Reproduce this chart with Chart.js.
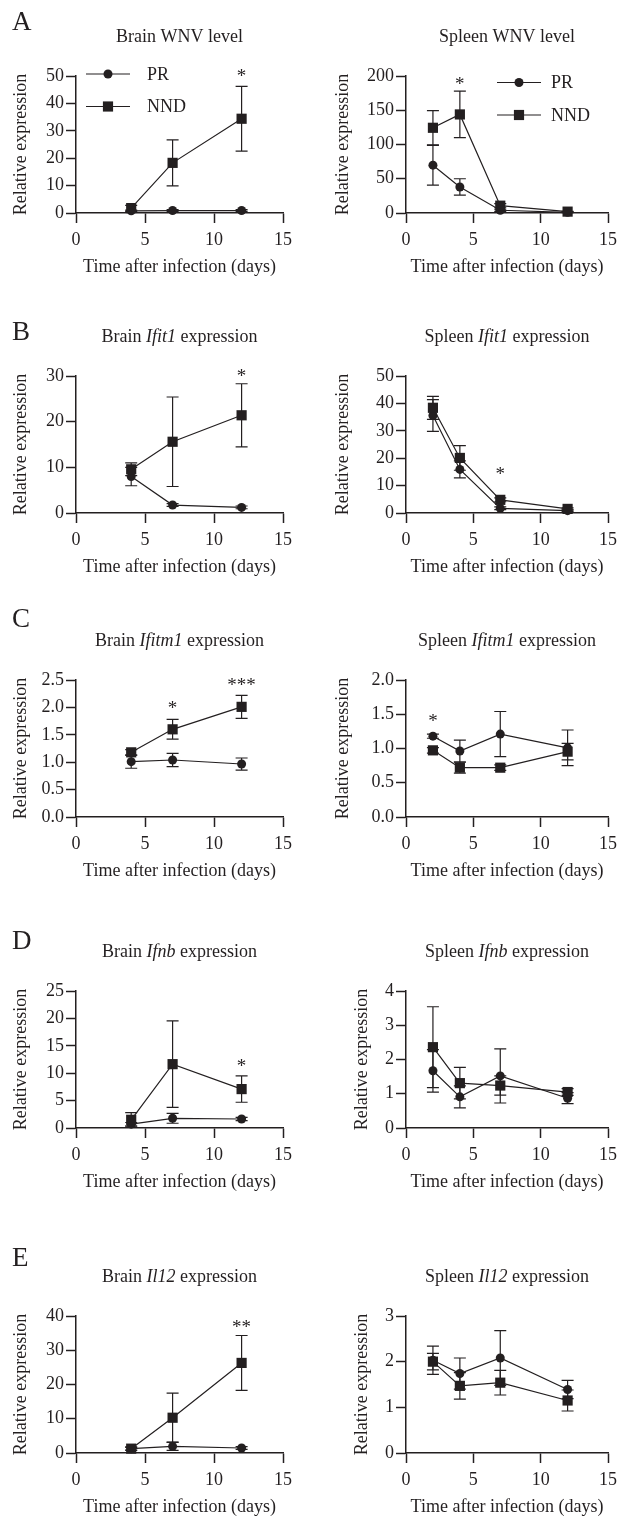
<!DOCTYPE html>
<html>
<head>
<meta charset="utf-8">
<script src="https://cdn.jsdelivr.net/npm/chart.js@4.4.0/dist/chart.umd.min.js"></script>
<style>
  body { margin: 0; background: #fff; width: 623px; height: 1517px; position: relative; overflow: hidden; }
  canvas { position: absolute; }
</style>
</head>
<body>
<canvas id="brain_wnv" width="311" height="278" style="left:0;top:0"></canvas>
<canvas id="spleen_wnv" width="312" height="278" style="left:311px;top:0"></canvas>
<canvas id="brain_ifit1" width="311" height="278" style="left:0;top:300px"></canvas>
<canvas id="spleen_ifit1" width="312" height="278" style="left:311px;top:300px"></canvas>
<canvas id="brain_ifitm1" width="311" height="278" style="left:0;top:604px"></canvas>
<canvas id="spleen_ifitm1" width="312" height="278" style="left:311px;top:604px"></canvas>
<canvas id="brain_ifnb" width="311" height="278" style="left:0;top:915px"></canvas>
<canvas id="spleen_ifnb" width="312" height="278" style="left:311px;top:915px"></canvas>
<canvas id="brain_il12" width="311" height="278" style="left:0;top:1240px"></canvas>
<canvas id="spleen_il12" width="312" height="278" style="left:311px;top:1240px"></canvas>
<script>
// ===========================================
// Data
// ===========================================

var brainDays = [4, 7, 12];
var spleenDays = [2, 4, 7, 12];
var dayTicks = ['0', '5', '10', '15'];

// A - WNV level
var brainWnvPR = [0.8, 0.9, 0.9];
var brainWnvPRErr = [0.3, 0.3, 0.3];
var brainWnvNND = [1.8, 18.3, 34.4];
var brainWnvNNDErr = [1.0, 8.4, 11.8];
var brainWnvTicks = ['0', '10', '20', '30', '40', '50'];
var brainWnvStars = [{ day: 12, level: 51.2, mark: '*' }];

var spleenWnvPR = [69.8, 38, 4, 1];
var spleenWnvPRErr = [29, 12, 1.5, 0.5];
var spleenWnvNND = [124.4, 143.9, 10.7, 2];
var spleenWnvNNDErr = [25, 34, 3, 0.5];
var spleenWnvTicks = ['0', '50', '100', '150', '200'];
var spleenWnvStars = [{ day: 4, level: 192.6, mark: '*' }];

// B - Ifit1
var brainIfit1PR = [7.97, 1.74, 1.23];
var brainIfit1PRErr = [2.0, 0.3, 0.3];
var brainIfit1NND = [9.57, 15.6, 21.4];
var brainIfit1NNDErr = [1.4, 9.8, 6.9];
var brainIfit1Ticks = ['0', '10', '20', '30'];
var brainIfit1Stars = [{ day: 12, level: 30.7, mark: '*' }];

var spleenIfit1PR = [35.6, 15.9, 1.7, 0.85];
var spleenIfit1PRErr = [5.8, 3.1, 0.5, 0.3];
var spleenIfit1NND = [38.4, 20.1, 4.8, 1.5];
var spleenIfit1NNDErr = [4.2, 4.5, 0.7, 0.4];
var spleenIfit1Ticks = ['0', '10', '20', '30', '40', '50'];
var spleenIfit1Stars = [{ day: 7, level: 15.5, mark: '*' }];

// C - Ifitm1
var brainIfitm1PR = [1.01, 1.04, 0.967];
var brainIfitm1PRErr = [0.12, 0.12, 0.11];
var brainIfitm1NND = [1.18, 1.6, 2.01];
var brainIfitm1NNDErr = [0.05, 0.18, 0.21];
var brainIfitm1Ticks = ['0.0', '0.5', '1.0', '1.5', '2.0', '2.5'];
var brainIfitm1Stars = [{ day: 7, level: 2.04, mark: '*' }, { day: 12, level: 2.47, mark: '***' }];

var spleenIfitm1PR = [1.18, 0.963, 1.21, 1.01];
var spleenIfitm1PRErr = [0.03, 0.16, 0.33, 0.26];
var spleenIfitm1NND = [0.973, 0.72, 0.72, 0.954];
var spleenIfitm1NNDErr = [0.04, 0.08, 0.04, 0.12];
var spleenIfitm1Ticks = ['0.0', '0.5', '1.0', '1.5', '2.0'];
var spleenIfitm1Stars = [{ day: 2, level: 1.44, mark: '*' }];

// D - Ifnb
var brainIfnbPR = [0.7, 1.77, 1.64];
var brainIfnbPRErr = [0.3, 0.9, 0.3];
var brainIfnbNND = [1.5, 11.65, 7.1];
var brainIfnbNNDErr = [1.3, 7.9, 2.4];
var brainIfnbTicks = ['0', '5', '10', '15', '20', '25'];
var brainIfnbStars = [{ day: 12, level: 11.95, mark: '*' }];

var spleenIfnbPR = [1.67, 0.91, 1.52, 0.87];
var spleenIfnbPRErr = [0.62, 0.32, 0.79, 0.16];
var spleenIfnbNND = [2.36, 1.31, 1.24, 1.05];
var spleenIfnbNNDErr = [1.18, 0.46, 0.28, 0.1];
var spleenIfnbTicks = ['0', '1', '2', '3', '4'];
var spleenIfnbStars = [];

// E - Il12
var brainIl12PR = [1.27, 1.95, 1.46];
var brainIl12PRErr = [0.4, 1.2, 0.4];
var brainIl12NND = [1.27, 10.3, 26.3];
var brainIl12NNDErr = [0.5, 7.2, 8.0];
var brainIl12Ticks = ['0', '10', '20', '30', '40'];
var brainIl12Stars = [{ day: 12, level: 37.8, mark: '**' }];

var spleenIl12PR = [2.03, 1.74, 2.08, 1.39];
var spleenIl12PRErr = [0.31, 0.34, 0.6, 0.2];
var spleenIl12NND = [2.0, 1.47, 1.54, 1.15];
var spleenIl12NNDErr = [0.18, 0.29, 0.27, 0.23];
var spleenIl12Ticks = ['0', '1', '2', '3'];
var spleenIl12Stars = [];

// ===========================================
// Style
// ===========================================
var ink = '#231f20';
var serif = '"Liberation Serif", "Times New Roman", serif';
var tickFont = { family: serif, size: 18 };
var labelFont = { family: serif, size: 18 };

// ===========================================
// Plugins
// ===========================================
var errorBars = {
	id: 'errorBars',
	beforeDatasetsDraw: function (chart) {
		var c = chart.ctx, xs = chart.scales.x, ys = chart.scales.y;
		c.save();
		c.strokeStyle = ink;
		c.lineWidth = 1.2;
		chart.data.datasets.forEach(function (ds) {
			ds.data.forEach(function (pt, i) {
				var e = ds.err[i];
				var x = xs.getPixelForValue(pt.x);
				var top = ys.getPixelForValue(pt.y + e);
				var bot = ys.getPixelForValue(pt.y - e);
				c.beginPath();
				c.moveTo(x, top); c.lineTo(x, bot);
				c.moveTo(x - 6, top); c.lineTo(x + 6, top);
				c.moveTo(x - 6, bot); c.lineTo(x + 6, bot);
				c.stroke();
			});
		});
		c.restore();
	}
};

function drawMarker(c, style, r, x, y) {
	c.beginPath();
	if (style === 'rect') {
		var s = r * Math.SQRT1_2;
		c.rect(x - s, y - s, 2 * s, 2 * s);
	} else {
		c.arc(x, y, r, 0, Math.PI * 2);
	}
	c.fill();
}

var decorations = {
	id: 'decorations',
	afterDraw: function (chart) {
		var p = chart.options.plugins.decorations;
		var c = chart.ctx, a = chart.chartArea, xs = chart.scales.x, ys = chart.scales.y;
		c.save();
		c.fillStyle = ink;
		c.strokeStyle = ink;

		// panel letter
		if (p.letter) {
			c.font = '27px ' + serif;
			c.textAlign = 'left';
			c.textBaseline = 'alphabetic';
			c.fillText(p.letter, 12, a.top + p.letterY);
		}

		// title with italic gene name
		var widths = p.title.map(function (seg, i) {
			c.font = (i % 2 ? 'italic ' : '') + '18px ' + serif;
			return c.measureText(seg).width;
		});
		var total = widths.reduce(function (s, w) { return s + w; }, 0);
		var tx = (a.left + a.right) / 2 - total / 2;
		c.textAlign = 'left';
		c.textBaseline = 'alphabetic';
		p.title.forEach(function (seg, i) {
			c.font = (i % 2 ? 'italic ' : '') + '18px ' + serif;
			c.fillText(seg, tx, a.top - 34);
			tx += widths[i];
		});

		// significance marks
		c.font = '19px ' + serif;
		c.textAlign = 'center';
		p.stars.forEach(function (s) {
			c.fillText(s.mark, xs.getPixelForValue(s.day), ys.getPixelForValue(s.level) + 9);
		});

		// legend
		if (p.legend) {
			var L = p.legend;
			chart.data.datasets.forEach(function (ds, i) {
				var ly = a.top + L.dy + i * 32.5;
				var lx = a.left + L.dx;
				c.lineWidth = 1.2;
				c.beginPath();
				c.moveTo(lx, ly); c.lineTo(lx + 44, ly);
				c.stroke();
				drawMarker(c, ds.pointStyle, ds.pointRadius, lx + 22, ly);
				c.font = '18px ' + serif;
				c.textAlign = 'left';
				c.textBaseline = 'middle';
				c.fillText(ds.label, lx + 44 + L.gap, ly + 1);
			});
		}
		c.restore();
	}
};

// ===========================================
// Functions
// ===========================================
function toPoints(days, values) {
	return days.map(function (d, i) { return { x: d, y: values[i] }; });
}

function createPanel(id, p) {
	var ctx = document.getElementById(id).getContext('2d');
	var yMax = parseFloat(p.yTicks[p.yTicks.length - 1]);
	new Chart(ctx, {
		type: 'line',
		data: {
			datasets: [
			{
				label: 'PR',
				data: toPoints(p.days, p.pr),
				err: p.prErr,
				pointStyle: 'circle',
				pointRadius: 4.5,
				order: 1
			},
			{
				label: 'NND',
				data: toPoints(p.days, p.nnd),
				err: p.nndErr,
				pointStyle: 'rect',
				pointRadius: 7.2,
				order: 0
			}
			].map(function (ds) {
				ds.borderColor = ink;
				ds.backgroundColor = ink;
				ds.pointBackgroundColor = ink;
				ds.pointBorderColor = ink;
				ds.pointBorderWidth = 0;
				ds.borderWidth = 1.2;
				ds.tension = 0;
				ds.clip = false;
				return ds;
			})
		},
		options: {
			responsive: false,
			animation: false,
			events: [],
			layout: { padding: { left: p.padLeft, top: 76, right: p.padRight, bottom: 0 } },
			plugins: {
				legend: { display: false },
				tooltip: { enabled: false },
				decorations: p
			},
			scales: {
				x: {
					type: 'linear',
					min: 0,
					max: 15,
					afterBuildTicks: function (s) {
						s.ticks = dayTicks.map(function (t) { return { value: parseFloat(t) }; });
					},
					ticks: {
						font: tickFont, color: ink, padding: 6, maxRotation: 0,
						callback: function (v, i) { return dayTicks[i]; }
					},
					grid: { drawOnChartArea: false, tickLength: 10, tickWidth: 1.5, tickColor: ink },
					border: { color: ink, width: 1.5 },
					title: { display: true, text: 'Time after infection (days)', font: labelFont, color: ink, padding: 0 },
					afterFit: function (s) { s.height = 65; }
				},
				y: {
					min: 0,
					max: yMax,
					afterBuildTicks: function (s) {
						s.ticks = p.yTicks.map(function (t) { return { value: parseFloat(t) }; });
					},
					ticks: {
						font: tickFont, color: ink, padding: 2,
						callback: function (v, i) { return p.yTicks[i]; }
					},
					grid: { drawOnChartArea: false, tickLength: 10, tickWidth: 1.5, tickColor: ink },
					border: { color: ink, width: 1.5 },
					title: { display: true, text: 'Relative expression', font: labelFont, color: ink, padding: 0 },
					afterFit: function (s) { s.width = p.areaLeft - p.padLeft; }
				}
			}
		},
		plugins: [errorBars, decorations]
	});
}

// ===========================================
// Panels
// ===========================================
var leftCol = { areaLeft: 76, padLeft: 10, padRight: 28 };
var rightCol = { areaLeft: 95, padLeft: 21, padRight: 11 };

function panel(col, extra) {
	var o = {};
	Object.keys(col).forEach(function (k) { o[k] = col[k]; });
	Object.keys(extra).forEach(function (k) { o[k] = extra[k]; });
	return o;
}

createPanel('brain_wnv', panel(leftCol, {
	letter: 'A', letterY: -46, title: ['Brain WNV level'],
	days: brainDays, pr: brainWnvPR, prErr: brainWnvPRErr, nnd: brainWnvNND, nndErr: brainWnvNNDErr,
	yTicks: brainWnvTicks, stars: brainWnvStars, legend: { dx: 10, dy: -2, gap: 17 }
}));
createPanel('spleen_wnv', panel(rightCol, {
	title: ['Spleen WNV level'],
	days: spleenDays, pr: spleenWnvPR, prErr: spleenWnvPRErr, nnd: spleenWnvNND, nndErr: spleenWnvNNDErr,
	yTicks: spleenWnvTicks, stars: spleenWnvStars, legend: { dx: 91, dy: 6.5, gap: 10 }
}));

createPanel('brain_ifit1', panel(leftCol, {
	letter: 'B', letterY: -36, title: ['Brain ', 'Ifit1', ' expression'],
	days: brainDays, pr: brainIfit1PR, prErr: brainIfit1PRErr, nnd: brainIfit1NND, nndErr: brainIfit1NNDErr,
	yTicks: brainIfit1Ticks, stars: brainIfit1Stars
}));
createPanel('spleen_ifit1', panel(rightCol, {
	title: ['Spleen ', 'Ifit1', ' expression'],
	days: spleenDays, pr: spleenIfit1PR, prErr: spleenIfit1PRErr, nnd: spleenIfit1NND, nndErr: spleenIfit1NNDErr,
	yTicks: spleenIfit1Ticks, stars: spleenIfit1Stars
}));

createPanel('brain_ifitm1', panel(leftCol, {
	letter: 'C', letterY: -53, title: ['Brain ', 'Ifitm1', ' expression'],
	days: brainDays, pr: brainIfitm1PR, prErr: brainIfitm1PRErr, nnd: brainIfitm1NND, nndErr: brainIfitm1NNDErr,
	yTicks: brainIfitm1Ticks, stars: brainIfitm1Stars
}));
createPanel('spleen_ifitm1', panel(rightCol, {
	title: ['Spleen ', 'Ifitm1', ' expression'],
	days: spleenDays, pr: spleenIfitm1PR, prErr: spleenIfitm1PRErr, nnd: spleenIfitm1NND, nndErr: spleenIfitm1NNDErr,
	yTicks: spleenIfitm1Ticks, stars: spleenIfitm1Stars
}));

createPanel('brain_ifnb', panel(leftCol, {
	letter: 'D', letterY: -42, title: ['Brain ', 'Ifnb', ' expression'],
	days: brainDays, pr: brainIfnbPR, prErr: brainIfnbPRErr, nnd: brainIfnbNND, nndErr: brainIfnbNNDErr,
	yTicks: brainIfnbTicks, stars: brainIfnbStars
}));
createPanel('spleen_ifnb', panel(rightCol, {
	padLeft: 40, title: ['Spleen ', 'Ifnb', ' expression'],
	days: spleenDays, pr: spleenIfnbPR, prErr: spleenIfnbPRErr, nnd: spleenIfnbNND, nndErr: spleenIfnbNNDErr,
	yTicks: spleenIfnbTicks, stars: spleenIfnbStars
}));

createPanel('brain_il12', panel(leftCol, {
	letter: 'E', letterY: -50, title: ['Brain ', 'Il12', ' expression'],
	days: brainDays, pr: brainIl12PR, prErr: brainIl12PRErr, nnd: brainIl12NND, nndErr: brainIl12NNDErr,
	yTicks: brainIl12Ticks, stars: brainIl12Stars
}));
createPanel('spleen_il12', panel(rightCol, {
	padLeft: 40, title: ['Spleen ', 'Il12', ' expression'],
	days: spleenDays, pr: spleenIl12PR, prErr: spleenIl12PRErr, nnd: spleenIl12NND, nndErr: spleenIl12NNDErr,
	yTicks: spleenIl12Ticks, stars: spleenIl12Stars
}));
</script>
</body>
</html>
